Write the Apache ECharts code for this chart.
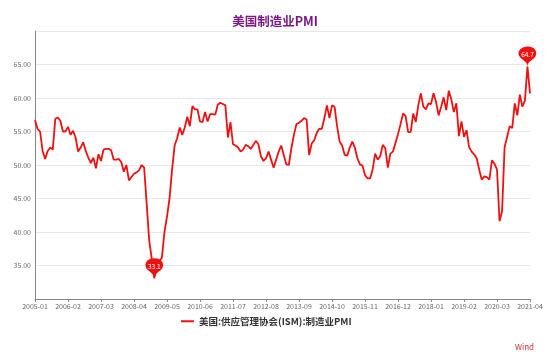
<!DOCTYPE html>
<html>
<head>
<meta charset="utf-8">
<script src="https://cdn.jsdelivr.net/npm/echarts@6/dist/echarts.min.js"></script>
<style>html,body{margin:0;padding:0;background:#fff}#c{width:550px;height:357px}</style>
</head>
<body>
<div id="c"></div>
<script>
var chartTitle = '美国制造业PMI';
var seriesName = '美国:供应管理协会(ISM):制造业PMI';
var sourceText = 'Wind';
var startYear = 2005, startMonth = 1, endYear = 2021, endMonth = 4;

var v2005 = [56.7, 55.4, 55.0, 52.1, 50.9, 52.1, 52.6, 52.3, 56.9, 57.1, 56.6, 55.0];
var v2006 = [55.0, 55.7, 54.5, 55.1, 54.1, 52.0, 52.6, 53.4, 52.1, 51.1, 50.3, 51.1];
var v2007 = [49.5, 51.6, 50.6, 52.3, 52.4, 52.4, 52.2, 50.8, 50.8, 50.9, 50.4, 49.0];
var v2008 = [50.0, 47.7, 48.2, 48.7, 48.9, 49.2, 50.0, 49.6, 44.2, 38.7, 36.0, 33.1];
var v2009 = [34.9, 35.6, 36.2, 40.0, 42.3, 45.0, 49.3, 52.9, 54.0, 55.6, 54.5, 55.6];
var v2010 = [57.2, 55.8, 58.8, 58.3, 58.3, 56.5, 56.4, 57.9, 56.5, 57.6, 57.6, 57.5];
var v2011 = [59.0, 59.3, 59.1, 58.9, 54.1, 56.4, 53.1, 52.9, 52.6, 52.0, 52.3, 53.0];
var v2012 = [52.8, 52.4, 53.0, 53.6, 53.1, 51.3, 50.6, 51.0, 52.0, 50.8, 49.6, 50.8];
var v2013 = [52.0, 52.9, 51.5, 50.1, 50.0, 52.5, 54.5, 56.1, 56.3, 56.6, 57.0, 56.8];
var v2014 = [51.5, 53.2, 53.7, 54.8, 55.4, 55.4, 57.0, 58.9, 57.0, 58.9, 58.7, 55.8];
var v2015 = [53.5, 52.9, 51.5, 51.4, 52.6, 53.5, 52.6, 51.0, 50.1, 49.9, 48.5, 48.0];
var v2016 = [48.0, 49.3, 51.7, 50.8, 51.3, 53.0, 52.5, 49.6, 51.7, 52.0, 53.3, 54.6];
var v2017 = [56.1, 57.7, 57.3, 54.9, 54.9, 57.7, 56.4, 58.9, 60.7, 58.7, 58.3, 59.2];
var v2018 = [59.1, 60.7, 59.4, 57.4, 58.7, 60.1, 58.2, 61.1, 59.8, 57.9, 59.2, 54.3];
var v2019 = [56.5, 54.2, 55.2, 52.7, 52.0, 51.6, 51.0, 49.3, 47.8, 48.3, 48.2, 47.8];
var v2020 = [50.7, 50.2, 49.3, 41.6, 43.1, 52.7, 54.2, 55.8, 55.5, 59.2, 57.4, 60.5];
var v2021 = [58.7, 59.6, 64.7, 60.7];

var yMin = 30, yMax = 70, yStep = 5;

var values = [].concat(v2005, v2006, v2007, v2008, v2009, v2010, v2011, v2012,
  v2013, v2014, v2015, v2016, v2017, v2018, v2019, v2020, v2021);
var categories = [];
for (var y = startYear; y <= endYear; y++) {
  for (var m = 1; m <= 12; m++) {
    if (y === startYear && m < startMonth) continue;
    if (y === endYear && m > endMonth) break;
    categories.push(y + '-' + (m < 10 ? '0' + m : m));
  }
}

var chart = echarts.init(document.getElementById('c'), null, {renderer: 'canvas'});
var font = '"Microsoft YaHei","Noto Sans CJK SC","DejaVu Sans",sans-serif';
chart.setOption({
  animation: false,
  backgroundColor: '#fff',
  title: {
    text: chartTitle, left: 'center', top: 10,
    textStyle: {color: '#7a1a80', fontSize: 12.5, fontWeight: 'bold', fontFamily: font}
  },
  legend: {
    data: [{name: seriesName, icon: 'rect'}],
    bottom: 26, left: 176,
    itemWidth: 13, itemHeight: 2, itemGap: 6,
    textStyle: {color: '#333', fontSize: 9.5, fontWeight: 'bold', fontFamily: font}
  },
  graphic: [{
    type: 'text', right: 16, bottom: 6,
    style: {text: sourceText, fill: '#c8322d', font: '8px ' + font}
  }],
  grid: {left: 35, right: 20, top: 31, bottom: 58, containLabel: false},
  xAxis: {
    type: 'category', data: categories, boundaryGap: false,
    axisLine: {lineStyle: {color: '#888', width: 1}},
    axisTick: {show: true, interval: 12, length: 3, lineStyle: {color: '#888'}},
    axisLabel: {interval: 12, color: '#666', fontSize: 7, margin: 4, fontFamily: font},
    splitLine: {show: false}
  },
  yAxis: {
    type: 'value', min: yMin, max: yMax, interval: yStep,
    axisLine: {show: true, lineStyle: {color: '#888', width: 1}},
    axisTick: {show: false},
    axisLabel: {
      color: '#666', fontSize: 7, margin: 4, fontFamily: font,
      showMinLabel: false, showMaxLabel: false,
      formatter: function (v) { return v.toFixed(2); }
    },
    splitLine: {show: true, lineStyle: {color: '#e8e8e8', width: 1}}
  },
  series: [{
    name: seriesName, type: 'line', data: values,
    showSymbol: false, symbol: 'none',
    lineStyle: {color: '#ee1111', width: 1.8},
    itemStyle: {color: '#ee1111'},
    markPoint: {
      symbol: 'pin', symbolSize: [30, 23],
      itemStyle: {color: '#ee1111'},
      label: {color: '#fff', fontSize: 6.5, fontFamily: font,
        formatter: function (p) { return p.value.toFixed(1); }},
      data: [{type: 'max'}, {type: 'min'}]
    }
  }]
});
</script>
</body>
</html>
